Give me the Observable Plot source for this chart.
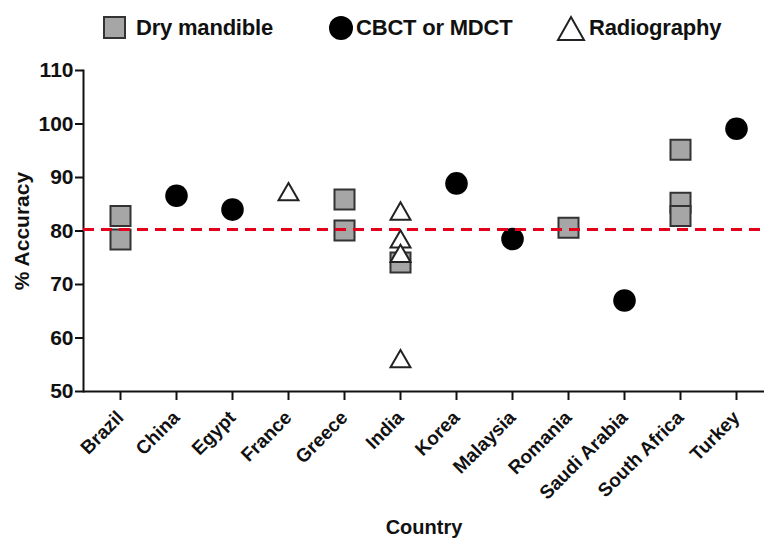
<!DOCTYPE html>
<html>
<head>
<meta charset="utf-8">
<script src="https://cdn.jsdelivr.net/npm/d3@7"></script>
<script src="https://cdn.jsdelivr.net/npm/@observablehq/plot@0.6"></script>
<style>
  html, body { margin: 0; padding: 0; background: #fff; }
  #wrap { width: 769px; height: 540px; position: relative; font-family: "Liberation Sans", Arial, sans-serif; font-weight: bold; color: #111; }
  #legend { position: relative; height: 55px; width: 769px; }
  #legend .item { position: absolute; top: 0; height: 56px; display: flex; align-items: center; }
  #legend svg { display: block; }
  #legend span { font-size: 22px; margin-left: 8px; letter-spacing: -0.2px; }
</style>
</head>
<body>
<div id="wrap">
  <div id="legend"></div>
  <div id="chart"></div>
</div>
<script>
// ---- data ----
const countries = ["Brazil","China","Egypt","France","Greece","India","Korea","Malaysia","Romania","Saudi Arabia","South Africa","Turkey"];
const dryCountry  = ["Brazil","Brazil","Greece","Greece","India","Romania","South Africa","South Africa","South Africa"];
const dryAccuracy = [82.8, 78.4, 85.9, 80.1, 74.1, 80.6, 95.2, 85.3, 82.8];
const ctCountry   = ["China","Egypt","Korea","Malaysia","Saudi Arabia","Turkey"];
const ctAccuracy  = [86.6, 84.0, 88.9, 78.5, 67.0, 99.1];
const radCountry  = ["France","India","India","India","India"];
const radAccuracy = [86.8, 83.2, 78.0, 75.3, 55.6];
const meanAccuracy = 80.3;
const yTicks = [50, 60, 70, 80, 90, 100, 110];
const legendLabels = ["Dry mandible", "CBCT or MDCT", "Radiography"];

const dry = dryCountry.map((c, i) => ({country: c, accuracy: dryAccuracy[i]}));
const ct  = ctCountry.map((c, i) => ({country: c, accuracy: ctAccuracy[i]}));
const rad = radCountry.map((c, i) => ({country: c, accuracy: radAccuracy[i]}));

// ---- legend (HTML) ----
const legend = document.getElementById("legend");
const legendDefs = [
  {left: 102, svg: '<svg width="26" height="26"><rect x="2" y="2" width="21" height="21" fill="#a6a6a6" stroke="#333" stroke-width="2"/></svg>'},
  {left: 328, svg: '<svg width="26" height="26"><circle cx="13" cy="13" r="12" fill="#000"/></svg>'},
  {left: 556, svg: '<svg width="30" height="28"><path d="M15,3 L28,26 L2,26 Z" fill="#fff" stroke="#222" stroke-width="2"/></svg>'}
];
legendDefs.forEach((d, i) => {
  const el = document.createElement("div");
  el.className = "item";
  el.style.left = d.left + "px";
  el.innerHTML = d.svg + "<span" + (i === 2 ? ' style="margin-left:3px"' : (i === 1 ? ' style="margin-left:2px"' : "")) + ">" + legendLabels[i] + "</span>";
  legend.appendChild(el);
});

// ---- chart ----
const chart = Plot.plot({
  width: 769,
  height: 485,
  marginTop: 15,
  marginBottom: 149,
  marginLeft: 83,
  marginRight: 5,
  style: {fontFamily: "Liberation Sans, Arial, sans-serif", fontWeight: "bold", color: "#111", background: "#fff"},
  x: {type: "point", domain: countries, range: [119, 736], padding: 0},
  y: {domain: [50, 110]},
  marks: [
    Plot.frame({anchor: "left", stroke: "#111", strokeWidth: 2}),
    Plot.ruleY([50], {stroke: "#111", strokeWidth: 2}),
    Plot.axisY({ticks: yTicks, tickSize: 8, tickPadding: 2, fontSize: 21, fontWeight: "bold", strokeWidth: 2, label: null}),
    Plot.axisX({tickSize: 9, tickPadding: 14, tickRotate: -45, dx: 0, fontSize: 19, fontWeight: "bold", strokeWidth: 2, label: null}),
    Plot.text(["% Accuracy"], {frameAnchor: "left", textAnchor: "middle", rotate: -90, dx: -61, fontSize: 21, fontWeight: "bold", fill: "#111"}),
    Plot.text(["Country"], {frameAnchor: "bottom", dy: 142, fontSize: 20, fontWeight: "bold", fill: "#111"}),
    Plot.dot(dry, {x: "country", y: "accuracy", symbol: "square", r: 11.3, fill: "#a6a6a6", stroke: "#333", strokeWidth: 2}),
    Plot.dot(ct, {x: "country", y: "accuracy", symbol: "circle", r: 11.3, fill: "#000"}),
    Plot.dot(rad, {x: "country", y: "accuracy", symbol: "triangle", r: 7.4, fill: "#fff", stroke: "#222", strokeWidth: 2}),
    Plot.ruleY([meanAccuracy], {stroke: "#e3001b", strokeWidth: 3, strokeDasharray: "11,7"})
  ]
});
document.getElementById("chart").appendChild(chart);
</script>
</body>
</html>
